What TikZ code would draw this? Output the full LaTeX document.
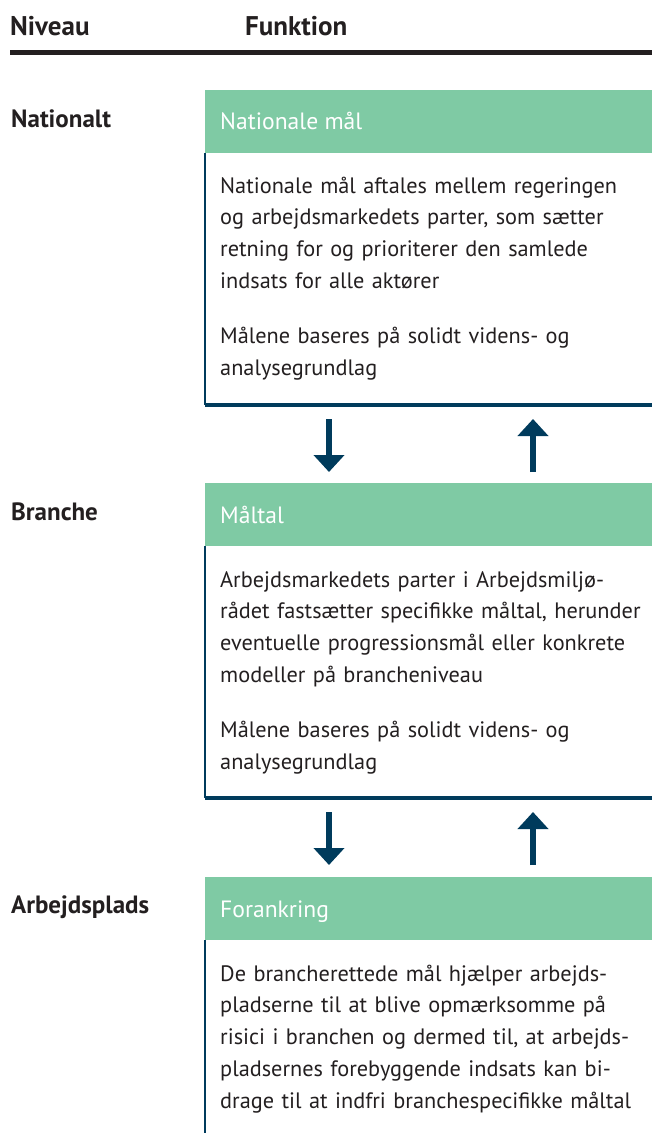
\documentclass[tikz,border=0pt]{standalone}
\usepackage{fontspec}
\setmainfont{PT Sans}
\usetikzlibrary{arrows.meta}
\definecolor{grn}{HTML}{7FCAA4}
\definecolor{navy}{HTML}{003B5C}
\definecolor{ink}{HTML}{231F20}
\begin{document}
\begin{tikzpicture}[x=1pt,y=-1pt,
  toplbl/.style={anchor=base west, inner sep=0pt, text=ink, font=\fontsize{27}{30}\selectfont\bfseries},
  lbl/.style={anchor=base west, inner sep=0pt, text=ink, font=\fontsize{25}{28}\selectfont\bfseries},
  hdr/.style={fill=grn, draw=none, minimum width=447pt, minimum height=63pt, anchor=north west, inner sep=0pt},
  htext/.style={anchor=base west, inner sep=0pt, text=white, font=\fontsize{23.6}{28}\selectfont},
  body/.style={anchor=base west, inner sep=0pt, text=ink, text width=500pt, align=left, font=\fontsize{22.3}{31.8}\selectfont},
  edgeline/.style={draw=navy, line width=1.2pt},
  bottomrule/.style={draw=navy, line width=4.5pt},
  arr/.style={navy, line width=6pt, -{Triangle[width=30pt,length=17pt]}},
]
\useasboundingbox (0,0) rectangle (652,1133);
% header
\node[toplbl] (niv) at (10,35) {Niveau};
\node[toplbl] (fun) at (245,35) {Funktion};
\coordinate (hl) at (10,52);
\coordinate (hr) at (652,52);
\draw[ink, line width=5pt] (hl) -- (hr);

% level labels
\node[lbl] (l1) at (11,127) {Nationalt};
\node[lbl] (l2) at (11,520) {Branche};
\node[lbl] (l3) at (11,913) {Arbejdsplads};

% box 1
\node[hdr] (h1) at (205,90) {};
\node[htext] (h1t) at (220,129.5) {Nationale mål};
\node[body] (b1) at (220,193) {Nationale mål aftales mellem regeringen\\
og arbejdsmarkedets parter, som sætter\\
retning for og prioriterer den samlede\\
indsats for alle aktører\\[23pt]
Målene baseres på solidt videns- og\\
analysegrundlag};
\coordinate (e1t) at (205,153);
\coordinate (e1b) at (205,405);
\coordinate (r1r) at (652,405);
\draw[edgeline] (e1t) -- (e1b);
\draw[bottomrule] (e1b) -- (r1r);

% arrows 1
\coordinate (d1s) at (329,419);
\coordinate (d1e) at (329,472);
\coordinate (u1s) at (533,472);
\coordinate (u1e) at (533,419);
\draw[arr] (d1s) -- (d1e);
\draw[arr] (u1s) -- (u1e);

% box 2
\node[hdr] (h2) at (205,483) {};
\node[htext] (h2t) at (220,523) {Måltal};
\node[body] (b2) at (220,587) {Arbejdsmarkedets parter i Arbejdsmiljø-\\
rådet fastsætter specifikke måltal, herunder\\
eventuelle progressionsmål eller konkrete\\
modeller på brancheniveau\\[23pt]
Målene baseres på solidt videns- og\\
analysegrundlag};
\coordinate (e2t) at (205,546);
\coordinate (e2b) at (205,798);
\coordinate (r2r) at (652,798);
\draw[edgeline] (e2t) -- (e2b);
\draw[bottomrule] (e2b) -- (r2r);

% arrows 2
\coordinate (d2s) at (329,812);
\coordinate (d2e) at (329,865);
\coordinate (u2s) at (533,865);
\coordinate (u2e) at (533,812);
\draw[arr] (d2s) -- (d2e);
\draw[arr] (u2s) -- (u2e);

% box 3
\node[hdr] (h3) at (205,877) {};
\node[htext] (h3t) at (220,917) {Forankring};
\node[body] (b3) at (220,981) {De brancherettede mål hjælper arbejds-\\
pladserne til at blive opmærksomme på\\
risici i branchen og dermed til, at arbejds-\\
pladsernes forebyggende indsats kan bi-\\
drage til at indfri branchespecifikke måltal};
\coordinate (e3t) at (205,940);
\coordinate (e3b) at (205,1133);
\draw[edgeline] (e3t) -- (e3b);
\end{tikzpicture}
\end{document}
